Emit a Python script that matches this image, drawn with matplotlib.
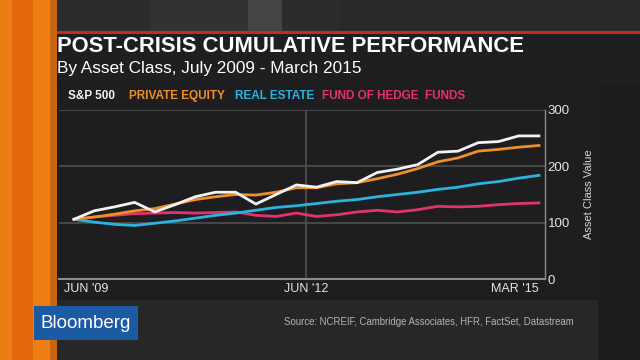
import matplotlib
matplotlib.use("Agg")
import matplotlib.pyplot as plt
from matplotlib.patches import Rectangle

# quarterly values, Jun 2009 .. Mar 2015
quarters = list(range(24))
sp500 = [106, 121, 128, 136, 119, 132, 146, 154, 154, 133, 150, 167,
         163, 173, 171, 189, 195, 203, 225, 227, 242, 244, 254, 254]
private_equity = [106, 110, 115, 121, 125, 133, 141, 146, 150, 149, 154, 162,
                  162, 169, 171, 178, 186, 196, 208, 215, 227, 230, 234, 237]
real_estate = [106, 101, 97, 95, 99, 103, 108, 113, 117, 122, 127, 130,
               134, 138, 141, 146, 150, 154, 159, 163, 169, 173, 179, 184]
hedge_funds = [106, 110, 113, 116, 117, 118, 117, 118, 119, 113, 111, 117,
               111, 114, 119, 122, 119, 123, 129, 128, 129, 132, 134, 135]

series_names = ["S&P 500", "PRIVATE EQUITY", "REAL ESTATE", "FUND OF HEDGE  FUNDS"]
series_colors = ["#f2f2f2", "#ee8f2a", "#2bb3de", "#e2336e"]
x_labels = ["JUN '09", "JUN '12", "MAR '15"]
y_ticks = [0, 100, 200, 300]

plt.rcParams["font.family"] = ["Liberation Sans", "DejaVu Sans"]

fig = plt.figure(figsize=(6.4, 3.6), dpi=100)
fig.patch.set_facecolor("#262628")

# background drawn in pixel coordinates
bg = fig.add_axes([0, 0, 1, 1], zorder=0)
bg.set_xlim(0, 640)
bg.set_ylim(360, 0)
bg.axis("off")

def box(x0, y0, x1, y1, color, **kw):
    bg.add_patch(Rectangle((x0, y0), x1 - x0, y1 - y0, color=color, lw=0, **kw))

box(0, 0, 640, 32, "#2c2c2e")
box(150, 0, 248, 32, "#323234")
box(248, 0, 282, 32, "#444446")
box(340, 0, 640, 32, "#29292b")
box(55, 34, 640, 84, "#1f1f21")
box(57, 84, 598, 300, "#1e1e20")
box(598, 84, 640, 360, "#1c1c1c")
box(57, 300, 598, 360, "#272728")
box(55, 31, 640, 34, "#c62a22")
# orange strip on the left
box(0, 0, 12, 360, "#ea7d14")
box(12, 0, 33, 360, "#e4680c")
box(33, 0, 50, 360, "#ef7e15")
box(50, 0, 57, 360, "#c9650f")

bg.text(57, 47, "POST-CRISIS CUMULATIVE PERFORMANCE", color="white",
        fontsize=15.8, fontweight="bold", va="center", ha="left")
bg.text(57, 68, "By Asset Class, July 2009 - March 2015", color="white",
        fontsize=12.4, va="center", ha="left")

legend_x = [68, 129, 235, 322]
for name, color, lx in zip(series_names, series_colors, legend_x):
    bg.text(lx, 96, name, color=color, fontsize=8.5, fontweight="bold",
            va="center", ha="left")

box(34, 306, 138, 340, "#1c5aa3")
bg.text(86, 323, "Bloomberg", color="white", fontsize=13.5,
        va="center", ha="center")
bg.text(284, 322, "Source: NCREIF, Cambridge Associates, HFR, FactSet, Datastream",
        color="#b4b4b4", fontsize=6.9, va="center", ha="left")

# chart
ax = fig.add_axes([59 / 640, 1 - 279 / 360, 486 / 640, 169 / 360], zorder=1)
ax.patch.set_alpha(0)
ax.set_xlim(-0.74, 23.3)
ax.set_ylim(0, 300)

for y in y_ticks[1:]:
    ax.axhline(y, color="#48484a", lw=1.4, zorder=1)
ax.axvline(11.5, color="#505052", lw=1.2, zorder=1)

data = [sp500, private_equity, real_estate, hedge_funds]
for vals, color in reversed(list(zip(data, series_colors))):
    ax.plot(quarters, vals, color=color, lw=2.0, zorder=3, solid_joinstyle="round")

ax.set_xticks([-0.5, 11.5, 23])
ax.set_xticklabels(x_labels)
for lab, ha in zip(ax.get_xticklabels(), ["left", "center", "right"]):
    lab.set_ha(ha)
ax.tick_params(axis="x", length=0, pad=3, colors="#e6e6e6", labelsize=9)

ax.yaxis.tick_right()
ax.set_yticks(y_ticks)
ax.tick_params(axis="y", length=0, pad=2, colors="#e6e6e6", labelsize=9.5)
ax.yaxis.set_label_position("right")
ax.set_ylabel("Asset Class Value", color="#d8d8d8", fontsize=8, labelpad=10)

for side in ["top", "left"]:
    ax.spines[side].set_visible(False)
ax.spines["bottom"].set_color("#8c8c8c")
ax.spines["bottom"].set_linewidth(1.5)
ax.spines["right"].set_color("#8c8c8c")
ax.spines["right"].set_linewidth(1.0)

plt.savefig("out.png", dpi=100, facecolor=fig.get_facecolor())
